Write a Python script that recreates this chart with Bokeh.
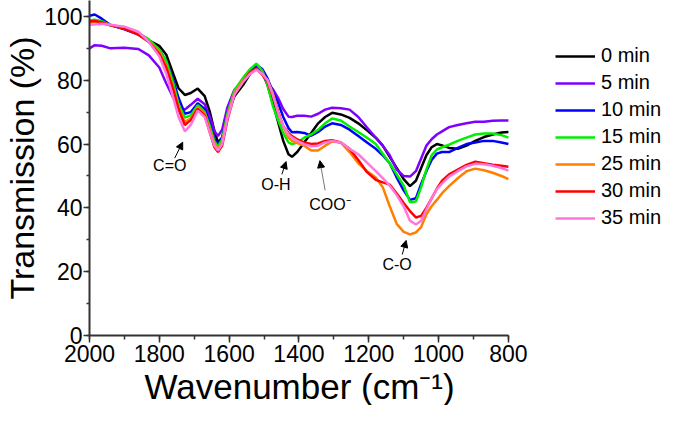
from bokeh.plotting import figure
from bokeh.models import Legend, LegendItem, Arrow, NormalHead, Label, Range1d, SingleIntervalTicker, Title
from bokeh.embed import file_html
from bokeh.resources import INLINE

# ---- data ----
wavenumber = [2000, 1985, 1965, 1940, 1900, 1860, 1830, 1800, 1780, 1760,
              1745, 1727, 1710, 1690, 1670, 1655, 1642, 1632, 1620, 1605,
              1585, 1560, 1540, 1522, 1505, 1490, 1475, 1460, 1445, 1430,
              1420, 1405, 1385, 1365, 1345, 1325, 1305, 1280, 1255, 1230,
              1205, 1180, 1160, 1140, 1120, 1100, 1082, 1065, 1050, 1035,
              1020, 1005, 990, 970, 945, 920, 895, 870, 845, 820, 800]

t0 = [98.6, 98.4, 98.0, 97.2, 96.2, 94.8, 92.5, 90.8, 88.0, 82.0,
      77.5, 75.4, 76.0, 77.4, 75.0, 70.0, 64.0, 60.5, 62.0, 69.0,
      75.0, 78.5, 82.0, 84.5, 82.5, 78.5, 73.0, 67.0, 61.0, 56.8,
      56.0, 57.5, 60.5, 63.5, 66.5, 68.5, 69.8, 69.3, 68.2, 66.5,
      64.3, 62.0, 59.5, 56.0, 52.5, 49.0, 46.8, 48.5, 52.5, 56.5,
      59.0, 60.0, 59.6, 58.8, 58.5, 59.5, 61.0, 62.2, 63.0, 63.6, 63.8]

t5 = [90.0, 91.0, 90.8, 90.0, 90.2, 89.8, 87.8, 84.0, 79.0, 74.5,
      71.5, 70.8, 72.3, 74.2, 72.5, 68.5, 64.0, 62.5, 64.5, 71.5,
      77.0, 80.0, 82.5, 84.0, 82.0, 79.0, 77.2, 74.5, 71.0, 68.6,
      68.5, 68.9, 68.9, 68.6, 69.5, 70.8, 71.4, 71.2, 70.8, 68.5,
      65.2, 62.0, 59.5, 56.5, 52.0, 50.0, 49.8, 51.5, 55.5, 59.5,
      61.5, 63.0, 64.0, 65.3, 66.0, 66.5, 67.0, 67.0, 67.3, 67.4, 67.4]

t10 = [100.2, 100.6, 99.3, 97.3, 96.0, 94.3, 92.5, 89.5, 86.0, 80.0,
       74.5, 69.5, 70.0, 72.8, 71.0, 66.5, 61.5, 59.8, 62.0, 69.5,
       76.5, 80.0, 83.0, 84.8, 83.5, 80.6, 76.5, 73.0, 68.5, 65.0,
       63.7, 63.8, 63.5, 62.6, 63.8, 65.5, 66.5, 66.0, 64.5, 62.5,
       60.5, 58.5, 56.5, 54.0, 49.5, 45.5, 42.5, 43.0, 47.5, 51.5,
       55.0, 57.0, 57.5, 57.5, 58.8, 60.0, 60.5, 61.0, 61.0, 60.5, 60.0]

t15 = [98.7, 99.0, 98.5, 97.3, 96.3, 94.8, 92.8, 89.5, 86.0, 79.0,
       72.5, 68.3, 69.0, 72.2, 70.0, 65.5, 60.8, 59.2, 61.5, 69.5,
       76.8, 80.8, 83.5, 85.2, 83.0, 78.5, 72.0, 67.5, 63.5, 60.5,
       60.0, 60.5, 62.0, 63.0, 64.5, 66.5, 68.0, 67.4, 65.5, 63.8,
       62.0, 60.0, 57.0, 54.0, 50.5, 47.0, 41.8, 42.0, 46.5, 52.0,
       56.5, 58.3, 59.0, 59.8, 61.0, 62.0, 63.0, 63.3, 63.3, 62.8, 62.0]

t25 = [98.0, 98.3, 98.0, 97.3, 96.3, 94.5, 92.3, 88.8, 84.5, 77.5,
       71.5, 67.0, 68.0, 71.5, 69.5, 64.5, 60.0, 58.5, 60.5, 68.5,
       76.0, 80.0, 82.5, 83.5, 82.0, 80.0, 76.0, 70.5, 65.5, 62.0,
       61.0, 60.3, 59.5, 58.0, 58.0, 59.5, 60.8, 60.5, 57.5, 54.0,
       51.5, 49.5, 46.5, 40.5, 35.0, 32.5, 31.7, 32.3, 34.0, 38.0,
       40.5, 42.5, 44.6, 46.8, 49.3, 51.5, 52.3, 51.8, 51.0, 50.0, 49.0]

t30 = [98.5, 98.6, 98.2, 97.3, 96.2, 94.3, 92.0, 88.3, 84.0, 77.0,
       71.0, 66.0, 67.5, 71.0, 69.0, 63.5, 59.0, 57.5, 59.5, 67.5,
       75.5, 79.5, 82.5, 83.5, 81.8, 79.5, 75.0, 70.0, 65.5, 63.5,
       62.5, 61.5, 60.5, 60.0, 60.2, 61.0, 61.2, 60.5, 58.5, 55.0,
       51.2, 48.8, 48.0, 47.3, 44.5, 41.5, 39.0, 37.0, 37.5, 40.0,
       43.0, 46.0, 48.5, 50.5, 52.0, 53.5, 54.5, 54.0, 53.5, 53.2, 52.9]

t35 = [97.4, 97.5, 97.7, 97.4, 96.8, 95.2, 92.0, 87.5, 82.0, 74.5,
       68.5, 64.0, 66.0, 70.5, 68.5, 63.5, 59.5, 58.0, 60.0, 68.0,
       75.5, 79.5, 82.0, 83.3, 82.0, 80.0, 75.5, 70.0, 65.5, 63.0,
       62.0, 61.0, 60.0, 59.3, 59.5, 60.5, 61.0, 60.5, 58.5, 56.8,
       54.2, 51.5, 49.3, 47.0, 44.0, 40.5, 36.0, 34.8, 36.0, 39.5,
       43.0, 45.8, 47.7, 49.8, 51.5, 53.0, 53.8, 53.7, 53.2, 52.5, 51.7]

series_labels = ["0 min", "5 min", "10 min", "15 min", "25 min", "30 min", "35 min"]
series_values = [t0, t5, t10, t15, t25, t30, t35]
series_colors = ["#000000", "#8000FF", "#0000FF", "#00EE00", "#FF8000", "#FF0000", "#FF77DD"]

# band annotations: label, text position, arrow tail, arrow head (data units)
band_labels = ["C=O", "O-H", "COO\u207b", "C-O"]
band_text_x = [1770, 1466, 1311, 1119]
band_text_y = [53.2, 47.4, 41.2, 22.2]
band_tail_x = [1756, 1449, 1325, 1104]
band_tail_y = [55.6, 50.5, 45.5, 25.4]
band_head_x = [1733, 1437, 1340, 1093]
band_head_y = [60.6, 54.5, 54.8, 29.8]
band_line_colors = ["#000000", "#000000", "#777777", "#000000"]

FONT = "Liberation Sans"

# the frame runs on to the right edge so that the legend sits inside it;
# the x axis itself is bounded to 2000..800
p = figure(width=665, height=405, output_backend="svg", toolbar_location=None,
           x_range=Range1d(2000, 350), y_range=Range1d(0, 105),
           min_border_left=80, min_border_right=0, min_border_top=0, min_border_bottom=60)
p.xgrid.visible = False
p.ygrid.visible = False
p.outline_line_color = None
p.background_fill_color = "white"
p.border_fill_color = "white"

p.xaxis.ticker = SingleIntervalTicker(interval=200, num_minor_ticks=2)
p.yaxis.ticker = SingleIntervalTicker(interval=20, num_minor_ticks=2)
p.xaxis.bounds = (800, 2000)
for ax in (p.xaxis[0], p.yaxis[0]):
    ax.axis_line_width = 2
    ax.axis_line_color = "#333333"
    ax.major_tick_line_color = "#333333"
    ax.minor_tick_line_color = "#333333"
    ax.major_tick_line_width = 1.5
    ax.minor_tick_line_width = 1.5
    ax.major_tick_in = 0
    ax.minor_tick_in = 0
    ax.major_label_text_font = FONT
    ax.major_label_text_font_size = "23px"
    ax.major_label_text_color = "black"
    ax.axis_label_text_font = FONT
    ax.axis_label_text_font_size = "34px"
    ax.axis_label_text_font_style = "normal"
    ax.axis_label_text_color = "black"
p.xaxis.major_tick_out = 7
p.xaxis.minor_tick_out = 4
p.yaxis.major_tick_out = 6
p.yaxis.minor_tick_out = 3
p.xaxis.major_label_standoff = 2
p.yaxis.major_label_standoff = 1
p.yaxis.axis_label_standoff = 0
p.yaxis.axis_label = "Transmission (%)"

# x-axis title, centred under the 2000..800 part of the frame
p.add_layout(Title(text="Wavenumber (cm\u207b\u00b9)", align="left", offset=55,
                   text_font=FONT, text_font_size="35px", text_font_style="normal",
                   text_color="black", standoff=0), "below")

items = []
for lab, ys, col in zip(series_labels, series_values, series_colors):
    r = p.line(wavenumber, ys, line_color=col, line_width=2.5)
    items.append(LegendItem(label=lab, renderers=[r]))

for i in range(len(band_labels)):
    p.add_layout(Arrow(end=NormalHead(size=7, fill_color="black", line_color="black", line_width=1),
                       x_start=band_tail_x[i], y_start=band_tail_y[i],
                       x_end=band_head_x[i], y_end=band_head_y[i],
                       line_color=band_line_colors[i], line_width=1))
    p.add_layout(Label(x=band_text_x[i], y=band_text_y[i], text=band_labels[i],
                       text_align="center", text_baseline="middle",
                       text_font=FONT, text_font_size="16px", text_color="black"))

legend = Legend(items=items, location=(466, 106), padding=0, margin=0,
                border_line_alpha=0, background_fill_alpha=0,
                label_text_font=FONT, label_text_font_size="20px", label_text_color="black",
                glyph_width=40, glyph_height=20, label_height=20,
                spacing=4, label_standoff=6)
p.add_layout(legend)

open("out.html", "w").write(file_html(p, INLINE))
